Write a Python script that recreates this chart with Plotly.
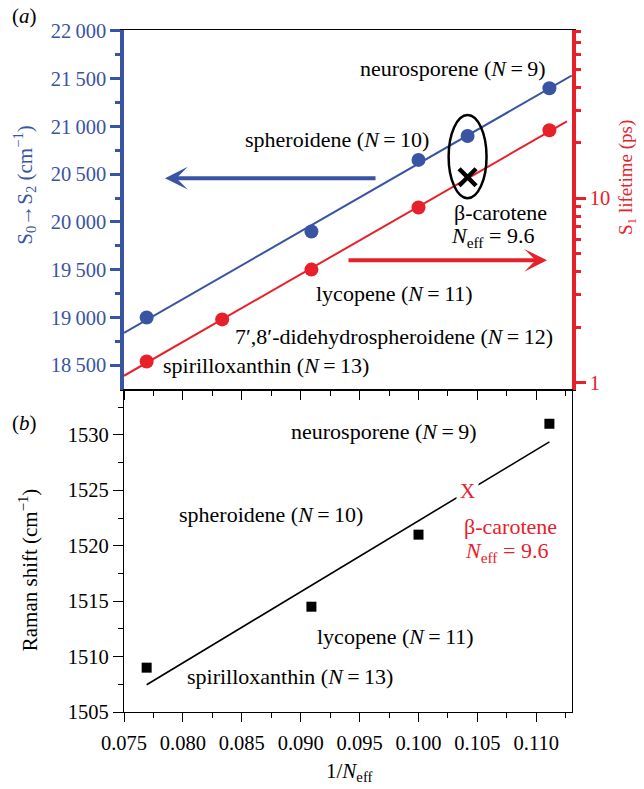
import numpy as np
import plotly.graph_objects as go

# ---------------- data ----------------
BLUE = "#3A54A4"
RED = "#E8202A"
FONT = "Liberation Serif"

# panel (a): S0->S2 energies (cm^-1) vs 1/N
s2_names = ["spirilloxanthin", "lycopene", "spheroidene", "beta-carotene", "neurosporene"]
s2_N = [13, 11, 10, 9.6, 9]
s2_energy = [19000, 19900, 20650, 20900, 21400]

# panel (a): S1 lifetimes (ps) vs 1/N
s1_names = ["spirilloxanthin", "7',8'-didehydrospheroidene", "lycopene", "spheroidene", "neurosporene"]
s1_N = [13, 12, 11, 10, 9]
s1_lifetime = [1.3, 2.2, 4.1, 8.9, 23.4]

beta_N = 9.6
beta_lifetime = 13.0

# panel (b): Raman shift (cm^-1) vs 1/N
raman_N = [13, 11, 10, 9]
raman_shift = [1509, 1514.5, 1521, 1531]

# tick labels
s2_ticks = [18500, 19000, 19500, 20000, 20500, 21000, 21500, 22000]
s2_ticktext = ["18\u2009500", "19\u2009000", "19\u2009500", "20\u2009000",
               "20\u2009500", "21\u2009000", "21\u2009500", "22\u2009000"]
s2_minor = [18750, 19250, 19750, 20250, 20750, 21250, 21750]
life_ticks = [1, 10]
life_minor = [2, 3, 4, 5, 6, 7, 8, 9, 20, 30, 40, 50, 60, 70, 80]

XR = [0.075, 0.11303]

# ---------------- fits ----------------
inv = lambda arr: 1.0 / np.asarray(arr, float)

fit_mask = [n != beta_N for n in s2_N]
bx = inv(s2_N)[fit_mask]
by = np.asarray(s2_energy, float)[fit_mask]
b_coef = np.polyfit(bx, by, 1)
xb_line = np.array([XR[0], 0.1130])

r_coef = np.polyfit(inv(s1_N), np.log10(s1_lifetime), 1)
xr_line = np.array([XR[0], 0.1126])

k_coef = np.polyfit(inv(raman_N), raman_shift, 1)
xk_line = np.array([1 / 13, 1 / 9])
beta_raman = np.polyval(k_coef, 1 / beta_N)

fig = go.Figure()

fig.add_trace(go.Scatter(x=xb_line, y=np.polyval(b_coef, xb_line), mode="lines",
                         line=dict(color=BLUE, width=2), xaxis="x", yaxis="y",
                         showlegend=False, hoverinfo="skip"))
fig.add_trace(go.Scatter(x=inv(s2_N), y=s2_energy, mode="markers",
                         marker=dict(color=BLUE, size=14), xaxis="x", yaxis="y",
                         text=s2_names, showlegend=False))
fig.add_trace(go.Scatter(x=xr_line, y=10 ** np.polyval(r_coef, xr_line), mode="lines",
                         line=dict(color=RED, width=2), xaxis="x", yaxis="y2",
                         showlegend=False, hoverinfo="skip"))
fig.add_trace(go.Scatter(x=inv(s1_N), y=s1_lifetime, mode="markers",
                         marker=dict(color=RED, size=14), xaxis="x", yaxis="y2",
                         text=s1_names, showlegend=False))
fig.add_trace(go.Scatter(x=[1 / beta_N], y=[beta_lifetime], mode="markers",
                         marker=dict(symbol="x-thin", size=17, color="black",
                                     line=dict(color="black", width=4.5)),
                         xaxis="x", yaxis="y2", showlegend=False))

fig.add_trace(go.Scatter(x=xk_line, y=np.polyval(k_coef, xk_line), mode="lines",
                         line=dict(color="black", width=1.6), xaxis="x2", yaxis="y3",
                         showlegend=False, hoverinfo="skip"))
fig.add_trace(go.Scatter(x=inv(raman_N), y=raman_shift, mode="markers",
                         marker=dict(color="black", size=10, symbol="square"),
                         xaxis="x2", yaxis="y3", showlegend=False))

SPLIT = 0.4728
tickfont = dict(family=FONT, size=20.5)

fig.update_layout(
    width=644, height=789,
    margin=dict(l=124, r=72, t=30, b=77),
    paper_bgcolor="white", plot_bgcolor="white",
    font=dict(family=FONT, size=20, color="black"),
    xaxis=dict(domain=[0, 1], anchor="y", range=XR, showticklabels=False,
               ticks="outside", tickmode="linear", tick0=0.075, dtick=0.005,
               ticklen=9, tickwidth=1.3, tickcolor="black",
               minor=dict(ticks="outside", dtick=0.0025, tick0=0.075, ticklen=5,
                          tickwidth=1.3, tickcolor="black"),
               showline=True, linecolor="black", linewidth=1.3, mirror=True,
               showgrid=False, zeroline=False, automargin=False),
    yaxis=dict(domain=[SPLIT, 1], anchor="x", range=[18245, 22010],
               tickmode="array", tickvals=s2_ticks, ticktext=s2_ticktext,
               tickfont=dict(family=FONT, size=20.5, color=BLUE),
               ticks="outside", ticklen=10, tickwidth=2.5, tickcolor=BLUE,
               minor=dict(ticks="outside", tickmode="array", tickvals=s2_minor,
                          ticklen=5, tickwidth=2.5, tickcolor=BLUE),
               showline=True, linecolor=BLUE, linewidth=3.5,
               showgrid=False, zeroline=False, automargin=False),
    yaxis2=dict(overlaying="y", side="right", anchor="x", type="log",
                range=[np.log10(0.916), np.log10(81.8)],
                tickmode="array", tickvals=life_ticks, ticktext=["1", "10"],
                tickfont=dict(family=FONT, size=20.5, color=RED),
                ticks="outside", ticklen=10, tickwidth=2.5, tickcolor=RED,
                minor=dict(ticks="outside", tickmode="array", tickvals=life_minor,
                           ticklen=5, tickwidth=2.5, tickcolor=RED),
                showline=True, linecolor=RED, linewidth=3.5,
                showgrid=False, zeroline=False, automargin=False),
    xaxis2=dict(domain=[0, 1], anchor="y3", range=XR,
                tickmode="linear", tick0=0.075, dtick=0.005, tickformat=".3f",
                tickfont=tickfont, ticklabelstandoff=3,
                ticks="outside", ticklen=9, tickwidth=1.3, tickcolor="black",
                minor=dict(ticks="outside", dtick=0.0025, tick0=0.075, ticklen=5,
                           tickwidth=1.3, tickcolor="black"),
                showline=True, linecolor="black", linewidth=1.3, mirror=True,
                showgrid=False, zeroline=False, automargin=False),
    yaxis3=dict(domain=[0, SPLIT], anchor="x2", range=[1505, 1534.09],
                tickmode="linear", tick0=1505, dtick=5, tickfont=tickfont,
                ticks="outside", ticklen=10, tickwidth=1.3, tickcolor="black",
                minor=dict(ticks="outside", dtick=2.5, tick0=1505, ticklen=5,
                           tickwidth=1.3, tickcolor="black"),
                showline=True, linecolor="black", linewidth=1.3, mirror=True,
                showgrid=False, zeroline=False, automargin=False),
)

AF = dict(family=FONT, size=22, color="black")
RF = dict(family=FONT, size=22, color=RED)
ann = []
def txt(text, x, y, xref, yref, font=AF, **kw):
    d = dict(text=text, x=x, y=y, xref=xref, yref=yref, showarrow=False, font=font,
             xanchor="center", yanchor="middle")
    d.update(kw)
    ann.append(d)

# panel labels
txt("(<i>a</i>)", -0.221, 1.0205, "paper", "paper", font=dict(family=FONT, size=21))
txt("(<i>b</i>)", -0.221, 0.4238, "paper", "paper", font=dict(family=FONT, size=21))

# axis titles
txt("S<sub>0</sub>\u2192S<sub>2</sub> (cm<sup>\u22121</sup>)", -0.221, 0.773, "paper", "paper",
    font=dict(family=FONT, size=21, color=BLUE), textangle=-90)
txt("S<sub>1</sub> lifetime (ps)", 1.123, 0.783, "paper", "paper",
    font=dict(family=FONT, size=19, color=RED), textangle=-90)
txt("Raman shift (cm<sup>\u22121</sup>)", -0.214, 0.208, "paper", "paper",
    font=dict(family=FONT, size=21), textangle=-90)
txt("1/<i>N</i><sub>eff</sub>", 0.504, -0.088, "paper", "paper",
    font=dict(family=FONT, size=21))

# panel (a) labels
txt("neurosporene (<i>N</i>\u2009=\u20099)", 0.10293, 21611, "x", "y")
txt("spheroidene (<i>N</i>\u2009=\u200910)", 0.09308, 20867, "x", "y")
txt("\u03b2-carotene", 0.10692, 20101, "x", "y")
txt("<i>N</i><sub>eff</sub> = 9.6", 0.10632, 19839, "x", "y")
txt("lycopene (<i>N</i>\u2009=\u200911)", 0.09792, 19252, "x", "y")
txt("7\u2032,8\u2032-didehydrospheroidene (<i>N</i>\u2009=\u200912)", 0.09792, 18801, "x", "y")
txt("spirilloxanthin (<i>N</i>\u2009=\u200913)", 0.08705, 18497, "x", "y")

# arrows (blue -> left axis, red -> right axis)
ann.append(dict(text="", x=0.07848, y=20458, ax=0.09648, ay=20458, xref="x", yref="y",
                axref="x", ayref="y", showarrow=True, arrowhead=3, arrowsize=0.95,
                arrowwidth=4, arrowcolor=BLUE))
ann.append(dict(text="", x=0.11091, y=19598, ax=0.09393, ay=19598, xref="x", yref="y",
                axref="x", ayref="y", showarrow=True, arrowhead=3, arrowsize=0.95,
                arrowwidth=4, arrowcolor=RED))

# panel (b) labels
txt("neurosporene (<i>N</i>\u2009=\u20099)", 0.09707, 1530.29, "x2", "y3")
txt("spheroidene (<i>N</i>\u2009=\u200910)", 0.08748, 1522.8, "x2", "y3")
txt("lycopene (<i>N</i>\u2009=\u200911)", 0.09801, 1511.78, "x2", "y3")
txt("spirilloxanthin (<i>N</i>\u2009=\u200913)", 0.08909, 1508.16, "x2", "y3")
txt("X", 1 / beta_N, beta_raman, "x2", "y3", font=dict(family=FONT, size=21, color=RED),
    bgcolor="white", borderpad=3)
txt("\u03b2-carotene", 0.10777, 1521.7, "x2", "y3", font=RF)
txt("<i>N</i><sub>eff</sub> = 9.6", 0.10743, 1519.45, "x2", "y3", font=RF)

fig.update_layout(annotations=ann)

# ellipse around beta-carotene in panel (a)
bxc = 1 / beta_N
fig.add_shape(type="circle", xref="x", yref="y", x0=bxc - 0.00161, x1=bxc + 0.00161,
              y0=20248, y1=21119, line=dict(color="black", width=2.5))

fig.write_html("out.html",
               config={"displayModeBar": False},
               post_script="document.body.style.margin='0';"
                           "document.documentElement.style.overflow='hidden';")
